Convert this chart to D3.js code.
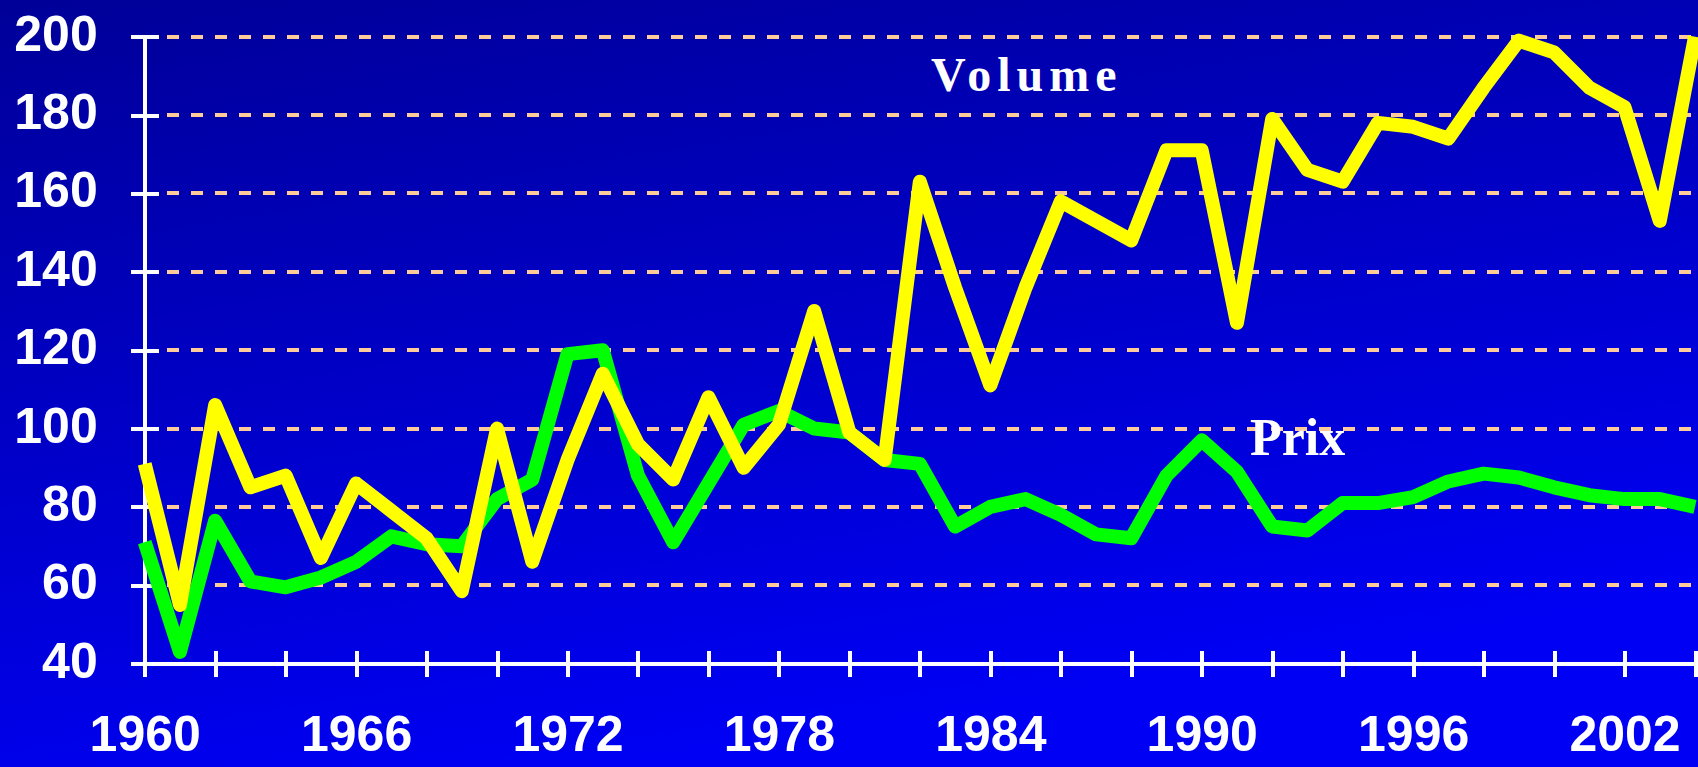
<!DOCTYPE html>
<html>
<head>
<meta charset="utf-8">
<script src="https://cdn.jsdelivr.net/npm/d3@7"></script>
<style>
  html, body { margin: 0; padding: 0; overflow: hidden; background: #0000c0; }
  .axis text { font-family: 'Liberation Sans', Arial, sans-serif; font-weight: bold; font-size: 50px; fill: #fff; }
  .axis path { display: none; }
  .axis line { stroke: #fff; stroke-width: 4; shape-rendering: crispEdges; }
  .grid line { stroke: #ffcc99; stroke-width: 4; stroke-dasharray: 12 12; shape-rendering: crispEdges; }
  .series { fill: none; stroke-width: 14; stroke-linejoin: round; }
  .label { font-family: 'Liberation Serif', 'Times New Roman', serif; font-weight: bold; fill: #fff; }
</style>
</head>
<body>
<svg id="chart"></svg>
<script>
const years = d3.range(1960, 2005);

// volume (yellow)
const volume = [91, 55, 106, 85, 88, 67, 86, 79, 72, 58.5,
  100, 66, 92, 114, 96, 87, 108, 90, 101, 130,
  99, 92, 163, 136, 111, 136, 158, 153, 148, 171,
  171, 127, 179, 166, 163, 178, 177, 174, 187, 199,
  196, 187, 182, 153, 200];

// prix (green)
const prix = [71, 43, 76.5, 61, 59.5, 62, 66, 72.5, 70.5, 70,
  82, 87, 119, 120, 88, 71, 86, 101, 104.5, 100,
  99, 92, 91, 75, 80, 82, 78, 73, 72, 88,
  97, 89, 75, 74, 81, 81, 82.5, 86.5, 88.5, 87.5,
  85, 83, 82, 82, 80];

const yTicks = [40, 60, 80, 100, 120, 140, 160, 180, 200];
const xTicks = d3.range(1960, 2005, 2);
const xLabels = [1960, 1966, 1972, 1978, 1984, 1990, 1996, 2002];

const W = 1698, H = 767;
const svg = d3.select('#chart').attr('width', W).attr('height', H);

const margin = {top: 36.7, right: 3, bottom: 103.3, left: 144.7},
    width = W - margin.left - margin.right,
    height = H - margin.top - margin.bottom;

// background
const grad = svg.append('defs').append('linearGradient')
  .attr('id', 'bg')
  .attr('x1', 0).attr('y1', 0).attr('x2', 0.35).attr('y2', 1);
grad.append('stop').attr('offset', '0%').attr('stop-color', '#000098');
grad.append('stop').attr('offset', '100%').attr('stop-color', '#0000f4');

svg.append('rect')
  .attr('width', W).attr('height', H)
  .attr('fill', 'url(#bg)');

const g = svg.append('g')
  .attr('transform', 'translate(' + margin.left + ',' + margin.top + ')');

const x = d3.scaleLinear()
  .domain([1960, 2004])
  .range([0, width]);

const y = d3.scaleLinear()
  .domain([40, 200])
  .range([height, 0]);

// dashed gridlines
g.append('g')
  .attr('class', 'grid')
  .selectAll('line')
  .data(yTicks.filter(d => d > 40))
  .enter().append('line')
    .attr('x1', 22)
    .attr('x2', width)
    .attr('y1', d => y(d))
    .attr('y2', d => y(d));

// y axis
const yAxis = g.append('g')
  .attr('class', 'axis y')
  .call(d3.axisLeft(y).tickValues(yTicks).tickSize(14).tickPadding(33));
yAxis.selectAll('.tick line').attr('x1', 14);
yAxis.selectAll('.tick text').attr('dy', '0.27em');
yAxis.append('line')
  .attr('x1', 0).attr('x2', 0)
  .attr('y1', 0).attr('y2', height + 13);

// x axis
const xAxis = g.append('g')
  .attr('class', 'axis x')
  .attr('transform', 'translate(0,' + height + ')')
  .call(d3.axisBottom(x)
    .tickValues(xTicks)
    .tickSize(13)
    .tickPadding(38.5)
    .tickFormat(d => xLabels.includes(d) ? String(d) : ''));
xAxis.selectAll('.tick line').attr('y1', -13);
xAxis.append('line')
  .attr('x1', 0).attr('x2', width)
  .attr('y1', 0).attr('y2', 0);

// lines (straight segments, round joins)
const line = d3.line()
  .x(d => x(d[0]))
  .y(d => y(d[1]));

g.append('path')
  .datum(years.map((yr, i) => [yr, prix[i]]))
  .attr('class', 'series prix')
  .attr('stroke', '#00ff00')
  .attr('d', line);

g.append('path')
  .datum(years.map((yr, i) => [yr, volume[i]]))
  .attr('class', 'series volume')
  .attr('stroke', '#ffff00')
  .attr('d', line);

// labels
svg.append('text')
  .attr('class', 'label')
  .attr('x', 931)
  .attr('y', 90.7)
  .attr('font-size', 48)
  .attr('letter-spacing', 6)
  .text('Volume');

svg.append('text')
  .attr('class', 'label')
  .attr('x', 1250)
  .attr('y', 455)
  .attr('font-size', 52)
  .text('Prix');
</script>
</body>
</html>
